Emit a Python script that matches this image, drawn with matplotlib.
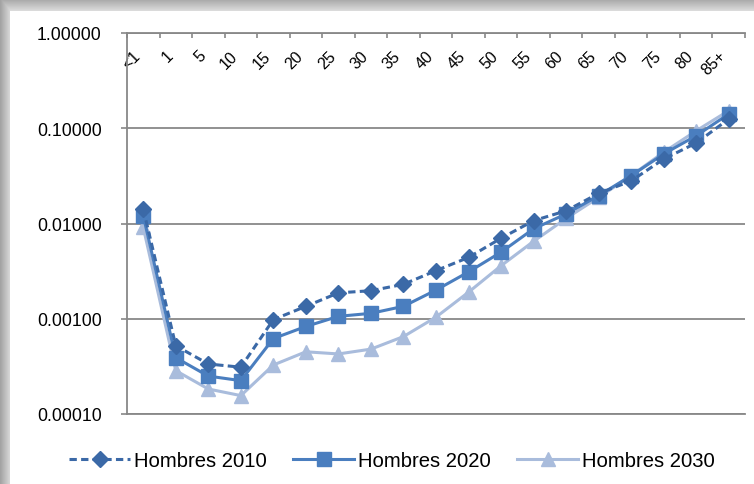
import numpy as np
import matplotlib
matplotlib.use("Agg")
import matplotlib.pyplot as plt
from matplotlib.ticker import FixedLocator, FuncFormatter, NullLocator

plt.rcParams['font.family'] = ['Liberation Sans', 'DejaVu Sans']

categories = ["<1", "1", "5", "10", "15", "20", "25", "30", "35", "40",
              "45", "50", "55", "60", "65", "70", "75", "80", "85+"]
hombres_2010 = [0.0142, 0.00052, 0.000335, 0.00031, 0.00098, 0.00135, 0.00187,
                0.00197, 0.0023, 0.0032, 0.0044, 0.0070, 0.0107, 0.0136,
                0.0207, 0.028, 0.0475, 0.070, 0.125]
hombres_2020 = [0.0121, 0.00039, 0.00025, 0.000224, 0.00062, 0.00083, 0.00106,
                0.00114, 0.00135, 0.0020, 0.0031, 0.0050, 0.0088, 0.0126,
                0.0196, 0.0318, 0.0537, 0.0835, 0.141]
hombres_2030 = [0.0091, 0.000285, 0.000183, 0.000156, 0.000327, 0.00045, 0.000427,
                0.00048, 0.00065, 0.00104, 0.0019, 0.0036, 0.0065, 0.0113,
                0.0188, 0.0318, 0.056, 0.094, 0.153]
y_ticks = [0.0001, 0.001, 0.01, 0.1, 1.0]

W, H = 754, 485
fig = plt.figure(figsize=(W / 100, H / 100), dpi=100)
fig.patch.set_facecolor('white')

# background frame with soft gray shadow on top and left edges
bg = fig.add_axes([0, 0, 1, 1], zorder=-10)
img = np.ones((H, W))
xs = np.arange(W)
ys = np.arange(H)
left = np.where(xs < 10, 0.64 + 0.022 * xs, 1.0)
top = np.where(ys < 12, 0.66 + 0.018 * ys, 1.0)
img = np.minimum(img, left[None, :])
img = np.minimum(img, top[:, None])
bg.imshow(np.dstack([img, img, img]), aspect='auto', interpolation='bilinear')
bg.axis('off')

ax = fig.add_axes([127 / W, 1 - 415 / H, (745 - 127) / W, (415 - 34) / H])
x = np.arange(len(categories))

c2010 = '#3B69A7'
c2020 = '#4A7EBF'
c2030 = '#A9BCDC'

ax.plot(x, hombres_2030, color=c2030, lw=2.2, marker='^', ms=10.5,
        label='Hombres 2030', zorder=3)
ax.plot(x, hombres_2020, color=c2020, lw=2.2, marker='s', ms=9.5,
        label='Hombres 2020', zorder=4)
ax.plot(x, hombres_2010, color=c2010, lw=2.2, marker='D', ms=8,
        dashes=(2.4, 1.4), label='Hombres 2010', zorder=5)

ax.set_yscale('log')
ax.set_ylim(1e-4, 1.0)
ax.set_xlim(-0.5, len(categories) - 0.5)

ax.yaxis.set_major_locator(FixedLocator(y_ticks))
ax.yaxis.set_minor_locator(NullLocator())
ax.yaxis.set_major_formatter(FuncFormatter(lambda v, p: f"{v:.5f}"))
ax.tick_params(axis='y', which='major', direction='out', length=4.3, width=1.2,
               color='#888888', labelsize=12.7, pad=14, labelcolor='black')
ax.grid(axis='y', which='major', color='#888888', lw=1.3)

# x axis: category boundaries as ticks on top, labels inside the plot
ax.xaxis.set_major_locator(FixedLocator(np.arange(-0.5, len(categories), 1.0)))
ax.xaxis.set_minor_locator(FixedLocator(x))
ax.xaxis.set_major_formatter(FuncFormatter(lambda v, p: ""))
ax.set_xticklabels(categories, minor=True)
ax.tick_params(axis='x', which='major', top=True, bottom=False, labeltop=False,
               labelbottom=False, direction='in', length=3.8, width=1.2,
               color='#888888')
ax.tick_params(axis='x', which='minor', top=True, bottom=False, labeltop=True,
               labelbottom=False, length=0, pad=-10.5, labelsize=11.5)
for lab in ax.get_xticklabels(minor=True):
    lab.set_rotation(45)
    lab.set_ha('right')
    lab.set_va('top')

for s in ['top', 'bottom', 'left']:
    ax.spines[s].set_color('#888888')
    ax.spines[s].set_linewidth(1.3)
ax.spines['right'].set_visible(False)
ax.set_facecolor('none')

handles, labels = ax.get_legend_handles_labels()
order = [2, 1, 0]
fig.legend([handles[i] for i in order], [labels[i] for i in order],
           loc='center', bbox_to_anchor=(392 / W, 1 - 462 / H), ncol=3,
           frameon=False, fontsize=14.6, handlelength=3.0, handletextpad=0.2,
           columnspacing=1.3)

fig.savefig('out.png', dpi=100)
